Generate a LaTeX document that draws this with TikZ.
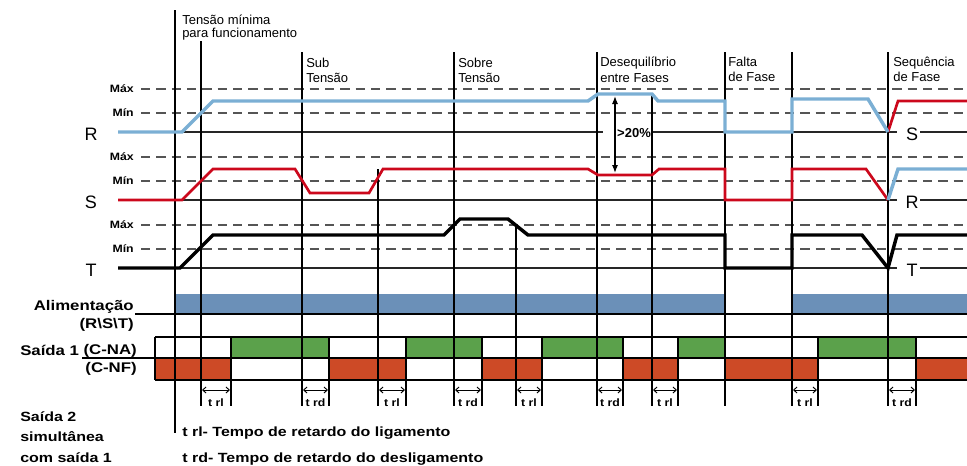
\documentclass[tikz,border=0pt]{standalone}
\usepackage{fontspec}
\setmainfont{Liberation Sans}
\usepackage{graphicx}
\usetikzlibrary{arrows.meta}
\definecolor{rblue}{RGB}{123,175,212}
\definecolor{sred}{RGB}{204,8,28}
\definecolor{alblue}{RGB}{107,144,184}
\definecolor{nagreen}{RGB}{91,161,75}
\definecolor{nfred}{RGB}{205,74,38}
\definecolor{dashgray}{RGB}{85,85,85}
\newcommand{\sbf}[2]{\scalebox{#1}[1]{\bfseries #2}}
\begin{document}
\begin{tikzpicture}[x=0.75pt,y=-0.75pt,
  evl/.style={line width=1.4pt,black},
  dsh/.style={line width=1.1pt,dashgray,dash pattern=on 7pt off 4.5pt},
  bsl/.style={line width=1.5pt,black!85},
  cellb/.style={line width=1.4pt,black},
  rw/.style={line width=2.6pt,rblue},
  sw/.style={line width=2pt,sred},
  tw/.style={line width=2.6pt,black},
  reg/.style={font=\fontsize{9.75pt}{11pt}\selectfont,inner sep=0pt,anchor=base west},
  big/.style={font=\fontsize{13.5pt}{15pt}\selectfont,inner sep=0pt},
  lvl/.style={font=\fontsize{8pt}{9pt}\selectfont,inner sep=0pt,anchor=east},
  blab/.style={font=\fontsize{10.5pt}{12pt}\selectfont,inner sep=0pt},
  nlab/.style={font=\fontsize{10pt}{12pt}\selectfont,inner sep=0pt,anchor=base west},
  tlab/.style={font=\fontsize{8pt}{9pt}\selectfont,inner sep=0pt,anchor=base},
  dly/.style={{Straight Barb[length=2.5pt,width=4.5pt]}-{Straight Barb[length=2.5pt,width=4.5pt]},line width=0.7pt}
]
\useasboundingbox (0,0) rectangle (967,465);

% ---------- output fills ----------
\fill[alblue] (175,294) rectangle (725,313);
\fill[alblue] (792,294) rectangle (967,313);
\foreach \xa/\xb in {231/329,406/482,542/623,678/725,818/916}
  \fill[nagreen] (\xa,337) rectangle (\xb,358);
\foreach \xa/\xb in {155/231,329/406,482/542,623/678,725/818,916/967}
  \fill[nfred] (\xa,358) rectangle (\xb,380);

% ---------- signal grid ----------
\foreach \b/\n/\m in {132/R/S,200/S/R,268/T/T}{
  \draw[dsh] (141,{\b-43}) -- (967,{\b-43});
  \draw[dsh] (141,{\b-19}) -- (967,{\b-19});
  \node[lvl] (max\n) at (134,{\b-43}) {\sbf{1.15}{Máx}};
  \node[lvl] (min\n) at (134,{\b-19}) {\sbf{1.15}{Mín}};
  \node[big] (lab\n) at (91,{\b+2}) {\n};
  \node[big] (rlab\n) at (912,{\b+2}) {\m};
  \draw[bsl] (920,\b) -- (967,\b);
}
\draw[bsl] (118,132) -- (603,132);
\draw[bsl] (652,132) -- (897,132);
\draw[bsl] (118,200) -- (897,200);
\draw[bsl] (118,268) -- (897,268);

% ---------- output rows ----------
\draw[line width=2.2pt] (135,314) -- (967,314);
\draw[cellb] (155,337) -- (967,337);
\draw[cellb] (82,358) -- (967,358);
\draw[cellb] (155,380) -- (967,380);
\draw[cellb] (155,337) -- (155,380);
\foreach \x in {231,329,406,482,542,623,678,818,916}
  \draw[evl] (\x,337) -- (\x,406);

% ---------- event lines ----------
\draw[evl] (175,10) -- (175,433);
\draw[evl] (201,41) -- (201,406);
\foreach \x in {302,454,597,725,792,888}
  \draw[evl] (\x,52) -- (\x,406);
\draw[evl] (652,95) -- (652,406);
\draw[evl] (378,169) -- (378,406);
\draw[evl] (516,226) -- (516,406);

% ---------- delay brackets ----------
\foreach \xa/\xb/\lb/\i in {201/231/rl/1,302/329/rd/2,378/406/rl/3,454/482/rd/4,516/542/rl/5,597/623/rd/6,652/678/rl/7,792/818/rl/8,888/916/rd/9}{
  \draw[dly] ({\xa+1},390) -- ({\xb-1},390);
  \node[tlab] (d\i) at ({(\xa+\xb)/2},406) {\sbf{1.15}{t \lb}};
}

% ---------- waveforms ----------
\draw[sw] (118,200) -- (182,200) -- (213,169) -- (295,169) -- (310,193) -- (369,193)
  -- (383,169) -- (588,169) -- (598,175) -- (652,175) -- (659,169) -- (725,169)
  -- (725,200) -- (792,200) -- (792,169) -- (866,169) -- (888,200);
\draw[sw] (888,132) -- (898,101) -- (967,101);
\draw[tw] (118,268) -- (180,268) -- (213,235) -- (444,235) -- (460,219) -- (508,219)
  -- (528,235) -- (725,235) -- (725,268) -- (792,268) -- (792,235) -- (862,235)
  -- (888,268) -- (897,235) -- (967,235);
\draw[rw] (118,132) -- (182,132) -- (213,101) -- (588,101) -- (598,94) -- (652,94)
  -- (658,101) -- (725,101) -- (725,132) -- (792,132) -- (792,99) -- (868,99) -- (888,132);
\draw[rw] (888,200) -- (898,169) -- (967,169);

% ---------- unbalance arrow ----------
\draw[{Latex[length=6pt,width=4.5pt]}-{Latex[length=6pt,width=4.5pt]},line width=0.9pt] (615,96) -- (615,173);
\node[font=\fontsize{9.75pt}{11pt}\selectfont\bfseries,inner sep=0pt] (pct) at (634,133) {>20\%};

% ---------- event labels ----------
\node[reg] (ev1a) at (182,24.5) {Tensão mínima};
\node[reg] (ev1b) at (182,37.5) {para funcionamento};
\node[reg] (ev2a) at (306,67) {Sub};
\node[reg] (ev2b) at (306,82.5) {Tensão};
\node[reg] (ev3a) at (458,67) {Sobre};
\node[reg] (ev3b) at (458,82.5) {Tensão};
\node[reg] (ev4a) at (600,66.5) {Desequilíbrio};
\node[reg] (ev4b) at (600,82) {entre Fases};
\node[reg] (ev5a) at (728,66) {Falta};
\node[reg] (ev5b) at (728,81.5) {de Fase};
\node[reg] (ev6a) at (893,66) {Sequência};
\node[reg] (ev6b) at (893,81.5) {de Fase};

% ---------- left labels ----------
\node[blab,anchor=base east] (alim) at (134,310.5) {\sbf{1.2}{Alimentação}};
\node[blab,anchor=base east] (rst) at (134,328) {\sbf{1.2}{(R\textbackslash S\textbackslash T)}};
\node[blab,anchor=base west] (s1) at (20,355) {\sbf{1.2}{Saída 1}};
\node[blab,anchor=base east] (cna) at (137,354) {\sbf{1.2}{(C-NA)}};
\node[blab,anchor=base east] (cnf) at (137,372) {\sbf{1.2}{(C-NF)}};
\node[nlab] (s2a) at (20,421.5) {\sbf{1.2}{Saída 2}};
\node[nlab] (s2b) at (20,441.5) {\sbf{1.2}{simultânea}};
\node[nlab] (s2c) at (20,462) {\sbf{1.2}{com saída 1}};
\node[nlab] (trl) at (182,436) {\sbf{1.2}{t rl- Tempo de retardo do ligamento}};
\node[nlab] (trd) at (182,462) {\sbf{1.2}{t rd- Tempo de retardo do desligamento}};
\end{tikzpicture}
\end{document}
